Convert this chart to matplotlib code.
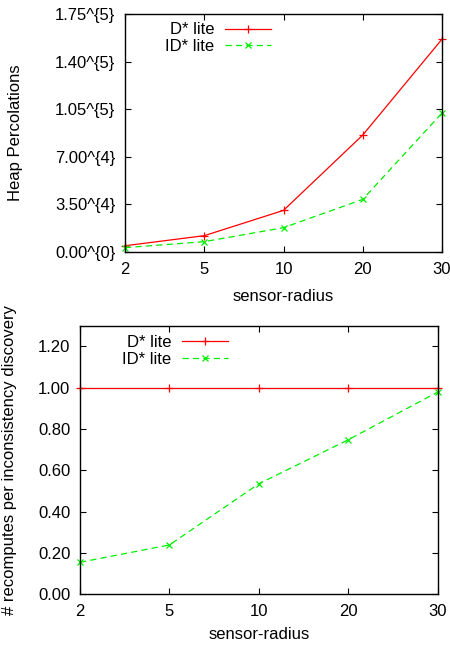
import matplotlib
matplotlib.use("Agg")
import matplotlib.pyplot as plt
from matplotlib.ticker import FixedLocator, FixedFormatter

plt.rcParams['font.family'] = ['Liberation Sans', 'DejaVu Sans']
plt.rcParams['font.size'] = 12
plt.rcParams['lines.scale_dashes'] = False

categories = ["2", "5", "10", "20", "30"]
series_names = ["D* lite", "ID* lite"]

heap_dlite = [4600, 12000, 30600, 86000, 156500]
heap_idlite = [3200, 7600, 17900, 38700, 102200]
heap_ticks = [0, 35000, 70000, 105000, 140000, 175000]
heap_tick_labels = ["0.00^{0}", "3.50^{4}", "7.00^{4}", "1.05^{5}", "1.40^{5}", "1.75^{5}"]

recomp_dlite = [1.0, 1.0, 1.0, 1.0, 1.0]
recomp_idlite = [0.155, 0.239, 0.535, 0.748, 0.979]
recomp_ticks = [0.0, 0.2, 0.4, 0.6, 0.8, 1.0, 1.2]
recomp_tick_labels = ["0.00", "0.20", "0.40", "0.60", "0.80", "1.00", "1.20"]

RED = "#ff0000"
GREEN = "#00ee00"

fig = plt.figure(figsize=(4.5, 6.46), dpi=100)
ax1 = fig.add_axes([0.2778, 0.6099, 0.7044, 0.3684])
ax2 = fig.add_axes([0.1778, 0.0800, 0.7949, 0.4158])

xs = list(range(len(categories)))


def style(ax):
    ax.tick_params(direction='in', length=4, width=0.8, top=True, right=True,
                   labelsize=12)
    ax.tick_params(axis='x', pad=7)
    ax.tick_params(axis='y', pad=7)
    for s in ax.spines.values():
        s.set_linewidth(1.0)
    ax.set_xlim(0, len(categories) - 1)
    ax.set_xticks(xs)
    ax.set_xticklabels(categories)


def draw(ax, d, i):
    ax.plot(xs, d, color=RED, lw=0.9, marker='+', ms=6, mew=0.9, label=series_names[0], clip_on=False)
    ax.plot(xs, i, color=GREEN, lw=0.9, marker='x', ms=5, mew=0.9, dashes=(4.5, 3),
            label=series_names[1], clip_on=False)


def legend(ax, xr, yt):
    ax.legend(loc='upper right', bbox_to_anchor=(xr, yt), markerfirst=False, frameon=False,
              handlelength=2.75, handletextpad=0.65, labelspacing=0.1, borderpad=0.0,
              borderaxespad=0.0, fontsize=12)


draw(ax1, heap_dlite, heap_idlite)
style(ax1)
ax1.set_ylim(0, 175000)
ax1.yaxis.set_major_locator(FixedLocator(heap_ticks))
ax1.yaxis.set_major_formatter(FixedFormatter(heap_tick_labels))
ax1.set_ylabel("Heap Percolations")
ax1.yaxis.set_label_coords(-0.321, 0.5)
ax1.set_xlabel("sensor-radius")
ax1.xaxis.set_label_coords(0.5, -0.155)
legend(ax1, 0.461, 0.965)

draw(ax2, recomp_dlite, recomp_idlite)
style(ax2)
ax2.set_ylim(0, 1.3)
ax2.yaxis.set_major_locator(FixedLocator(recomp_ticks))
ax2.yaxis.set_major_formatter(FixedFormatter(recomp_tick_labels))
ax2.set_ylabel("# recomputes per inconsistency discovery")
ax2.yaxis.set_label_coords(-0.176, 0.5)
ax2.set_xlabel("sensor-radius")
ax2.xaxis.set_label_coords(0.5, -0.122)
legend(ax2, 0.414, 0.966)

fig.savefig("out.png", dpi=100)
